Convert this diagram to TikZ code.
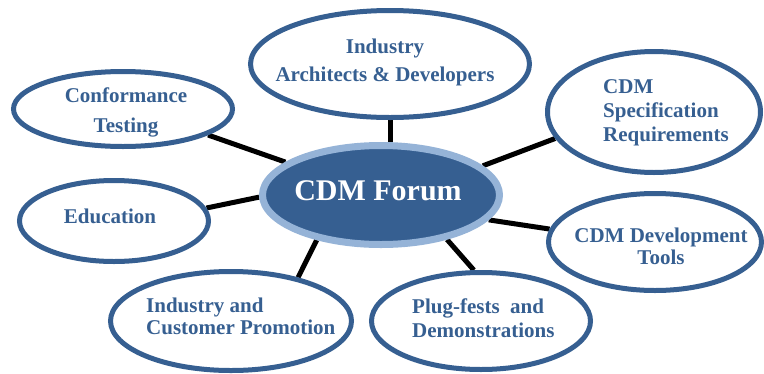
\documentclass[tikz,border=0pt]{standalone}
\usepackage{fontspec}
\setmainfont{Liberation Serif}
\usetikzlibrary{shapes.geometric, backgrounds}
\definecolor{forumblue}{RGB}{54, 95, 145}
\definecolor{forumring}{RGB}{149, 179, 215}

\begin{document}
\begin{tikzpicture}[x=1pt, y=-1pt,
    bubble/.style={ellipse, draw=forumblue, line width=5pt, fill=white, inner sep=0pt},
    bubtext/.style={text=forumblue, font=\fontsize{21}{22}\selectfont\bfseries, inner sep=0pt},
    spoke/.style={black, line width=5pt}]
    \useasboundingbox (0,0) rectangle (764,373);

    % centre ellipse
    \node[ellipse, fill=forumblue, draw=forumring, line width=7pt, minimum width=237pt, minimum height=99pt, inner sep=0pt] (forum) at (381,195) {};
    \node[anchor=base, text=white, font=\fontsize{30}{32}\selectfont\bfseries, inner sep=0pt] (forum-t) at (378,200) {CDM Forum};

    % outer bubbles
    \node[bubble, minimum width=279pt, minimum height=107pt] (arch) at (390,64) {};
    \node[bubble, minimum width=213pt, minimum height=121pt] (spec) at (654,112) {};
    \node[bubble, minimum width=213pt, minimum height=97pt] (tools) at (655,242) {};
    \node[bubble, minimum width=219pt, minimum height=97pt] (plug) at (481,321) {};
    \node[bubble, minimum width=241pt, minimum height=99pt] (promo) at (231,321) {};
    \node[bubble, minimum width=189pt, minimum height=81pt] (edu) at (114,221) {};
    \node[bubble, minimum width=219pt, minimum height=75pt] (conf) at (123,109) {};

    % texts
    \node[bubtext, anchor=north, align=center] (arch-t) at (385,39) {Industry\\[6pt]Architects \& Developers};
    \node[bubtext, anchor=north west, align=left] (spec-t) at (603,79) {CDM\\[2pt]Specification\\[2pt]Requirements};
    \node[bubtext, anchor=north, align=center] (tools-t) at (661,228) {CDM Development\\Tools};
    \node[bubtext, anchor=north west, align=left] (plug-t) at (412,299) {Plug-fests~ and\\[2pt]Demonstrations};
    \node[bubtext, anchor=north west, align=left] (promo-t) at (146,298) {Industry and\\Customer Promotion};
    \node[bubtext, anchor=base] (edu-t) at (110,223) {Education};
    \node[bubtext, anchor=north, align=center] (conf-t) at (126,88) {Conformance\\[8pt]Testing};

    % spokes
    \begin{scope}[on background layer]
        \draw[spoke] (arch.south) -- (arch.south |- forum.center);
        \draw[spoke] (forum.16) -- (spec.195);
        \draw[spoke] (forum.-13) -- (tools.173);
        \draw[spoke] (forum.-34) -- (plug.98);
        \draw[spoke] (forum.215) -- (promo.33);
        \draw[spoke] (forum.181) -- (edu.8);
        \draw[spoke] (forum.161) -- (conf.-17);
    \end{scope}
\end{tikzpicture}
\end{document}
